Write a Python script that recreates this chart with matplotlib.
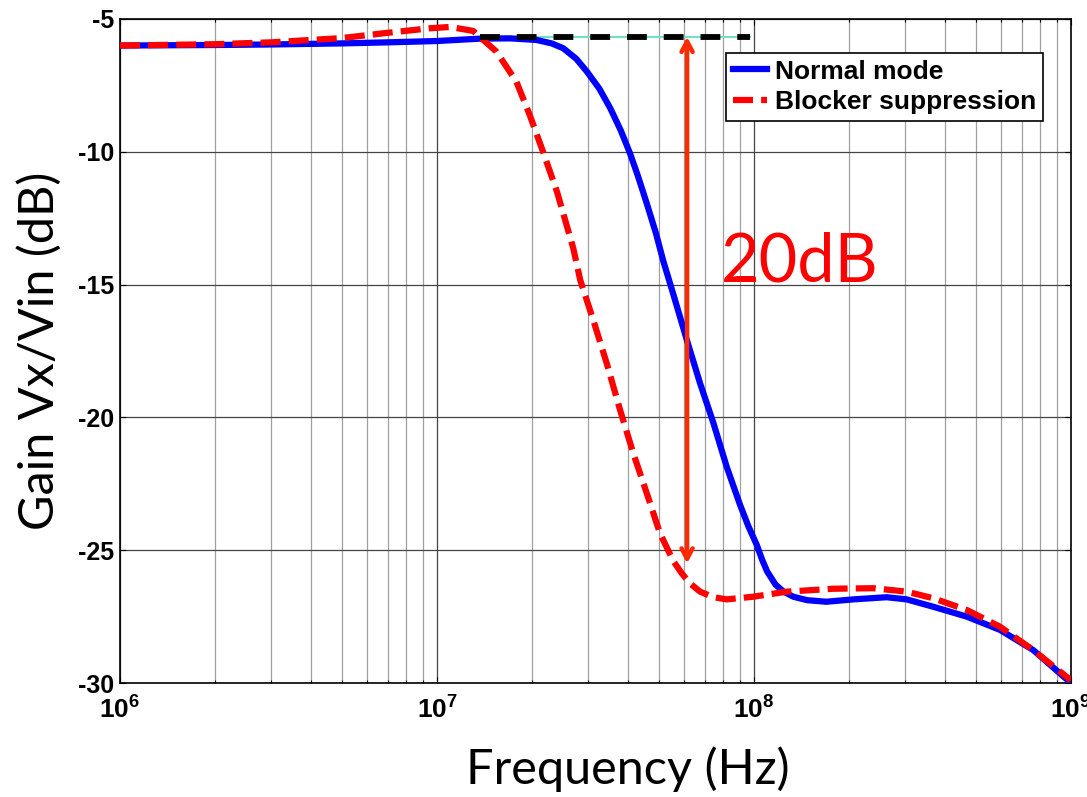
import matplotlib
matplotlib.use("Agg")
import matplotlib.pyplot as plt
from matplotlib.ticker import LogLocator, NullFormatter

# ---- data ----
freq_normal = [1e6, 2e6, 3e6, 5e6, 7e6, 1.0e7, 1.37e7, 1.7e7, 2.06e7, 2.3e7, 2.5e7, 2.75e7,
               2.97e7, 3.25e7, 3.52e7, 3.8e7, 4.06e7, 4.3e7, 4.59e7, 4.9e7, 5.17e7, 5.56e7,
               6.14e7, 6.76e7, 7.45e7, 8.2e7, 9.04e7, 9.6e7, 1.02e8, 1.06e8, 1.1e8, 1.17e8,
               1.24e8, 1.33e8, 1.47e8, 1.69e8, 2.06e8, 2.62e8, 3.03e8, 3.68e8, 4.69e8, 5.97e8,
               7.6e8, 1.0e9]
gain_normal = [-6.0, -5.98, -5.96, -5.92, -5.88, -5.83, -5.74, -5.73, -5.79, -5.92, -6.10, -6.5,
               -6.98, -7.62, -8.36, -9.2, -10.05, -10.9, -11.95, -13.05, -14.1, -15.35,
               -17.09, -18.72, -20.22, -21.86, -23.3, -24.1, -24.8, -25.35, -25.8, -26.3,
               -26.56, -26.75, -26.88, -26.94, -26.85, -26.77, -26.85, -27.13, -27.50, -28.0,
               -28.76, -30.0]

freq_blocker = [1e6, 2e6, 3e6, 5e6, 7e6, 9.5e6, 1.1e7, 1.3e7, 1.54e7, 1.78e7, 1.96e7, 2.16e7,
                2.39e7, 2.69e7, 2.83e7, 3.11e7, 3.43e7, 3.78e7, 4.16e7, 4.59e7, 5.05e7, 5.56e7,
                5.9e7, 6.28e7, 6.76e7, 7.45e7, 8.2e7, 9.95e7, 1.27e8, 1.78e8, 2.38e8, 3.03e8,
                3.68e8, 4.69e8, 5.97e8, 7.6e8, 1.0e9]
gain_blocker = [-6.0, -5.95, -5.88, -5.72, -5.52, -5.35, -5.3, -5.45, -6.23, -7.36, -8.61, -10.0,
                -11.5, -13.63, -14.83, -16.33, -17.96, -19.72, -21.35, -22.86, -24.36, -25.4,
                -25.85, -26.25, -26.56, -26.77, -26.85, -26.75, -26.56, -26.45, -26.43, -26.56,
                -26.81, -27.25, -27.88, -28.76, -29.9]

ref_freq = [1.37e7, 9.7e7]
ref_gain = [-5.67, -5.67]
arrow_freq = 6.15e7
arrow_top, arrow_bottom = -5.67, -25.5

y_ticks = [-30, -25, -20, -15, -10, -5]
x_ticks = [1e6, 1e7, 1e8, 1e9]
x_ticklabels = [r"$\mathbf{10^{6}}$", r"$\mathbf{10^{7}}$", r"$\mathbf{10^{8}}$", r"$\mathbf{10^{9}}$"]

plt.rcParams['mathtext.fontset'] = 'custom'
plt.rcParams['mathtext.bf'] = 'Liberation Sans:bold'
plt.rcParams['mathtext.rm'] = 'Liberation Sans'

fig = plt.figure(figsize=(10.87, 7.97), dpi=100)
ax = fig.add_axes([0.1104, 0.1430, 0.8749, 0.8332])

ax.set_xscale('log')
ax.set_xlim(1e6, 1e9)
ax.set_ylim(-30, -5)

# grid
ax.xaxis.set_minor_locator(LogLocator(base=10, subs=range(2, 10)))
ax.xaxis.set_minor_formatter(NullFormatter())
ax.grid(True, which='major', axis='both', color='#444444', lw=0.9)
ax.grid(True, which='minor', axis='x', color='#a0a0a0', lw=0.9)
ax.set_axisbelow(True)

# reference dashed line
ax.plot(ref_freq, ref_gain, color='#70E0C8', lw=1.5, zorder=2)
ax.plot(ref_freq, ref_gain, color='black', lw=4.2, linestyle=(0, (3.4, 2.9)),
        solid_capstyle='butt', zorder=5)

l1, = ax.plot(freq_normal, gain_normal, color='#0000FF', lw=4.5, label='Normal mode', zorder=3)
l2, = ax.plot(freq_blocker, gain_blocker, color='#FF0000', lw=4.5, linestyle=(0, (3.2, 1.3)),
              label='Blocker suppression', zorder=4)

ax.annotate('', xy=(arrow_freq, arrow_top), xytext=(arrow_freq, arrow_bottom),
            arrowprops=dict(arrowstyle='<->,head_length=0.75,head_width=0.4',
                            color='#FF2A00', lw=3.2, shrinkA=0, shrinkB=0), zorder=6)
ax.text(7.85e7, -14.15, '20dB', color='#FF0000', fontsize=48, family='Lato',
        va='center', ha='left')

# ticks
ax.set_yticks(y_ticks)
ax.set_yticklabels([str(v) for v in y_ticks])
ax.set_xticks(x_ticks)
ax.set_xticklabels(x_ticklabels)
ax.tick_params(which='both', direction='in', top=True, right=True)
ax.tick_params(which='major', length=4, width=0.8)
ax.tick_params(which='minor', length=2.5, width=0.8)
for lab in ax.get_yticklabels():
    lab.set_fontweight('bold'); lab.set_family('Liberation Sans'); lab.set_fontsize(18)
for lab in ax.get_xticklabels():
    lab.set_fontsize(19)
ax.tick_params(axis='x', which='major', pad=10)
ax.tick_params(axis='y', which='major', pad=4)
for sp in ax.spines.values():
    sp.set_linewidth(1.2)

ax.set_xlabel('Frequency (Hz)', fontsize=35, family='Lato', labelpad=16)
ax.xaxis.label.set_x(0.534)
ax.set_ylabel('Gain Vx/Vin (dB)', fontsize=35, family='Lato', labelpad=12)

leg = ax.legend(handles=[l1, l2], loc='upper right', bbox_to_anchor=(0.9706, 0.9488),
                borderaxespad=0, fancybox=False, edgecolor='black', framealpha=1,
                prop={'family': 'Liberation Sans', 'weight': 'bold', 'size': 19},
                handlelength=1.3, handletextpad=0.3, borderpad=0.25, labelspacing=0.25)
leg.get_frame().set_linewidth(1.2)

fig.savefig('out.png', dpi=100)
